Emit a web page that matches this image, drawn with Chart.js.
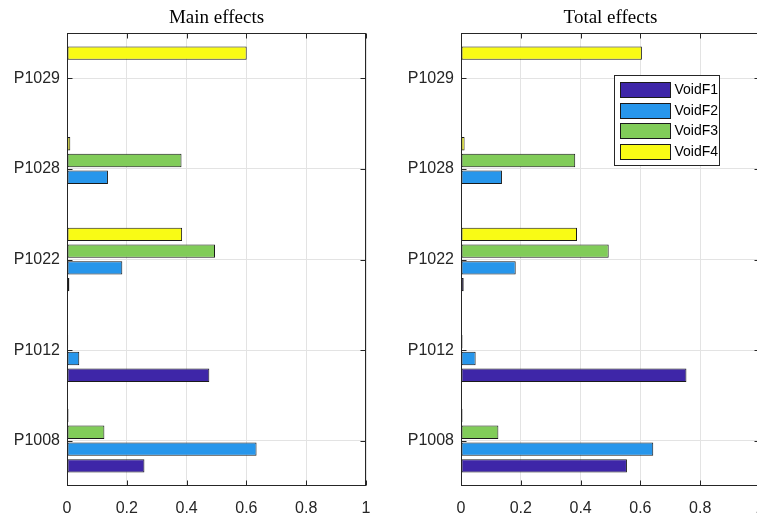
<!DOCTYPE html>
<html><head><meta charset="utf-8">
<script src="https://cdn.jsdelivr.net/npm/chart.js@4"></script>
<style>
html,body{margin:0;padding:0;background:#fff;}
#wrap{position:relative;width:757px;height:513px;overflow:hidden;background:#fff;}
canvas{position:absolute;top:0;}
</style></head><body>
<div id="wrap"><canvas id="c1" width="380" height="513" style="left:0;width:380px;height:513px"></canvas><canvas id="c2" width="400" height="513" style="left:380px;width:400px;height:513px"></canvas></div>
<script>
const categories = ['P1008', 'P1012', 'P1022', 'P1028', 'P1029'];
const seriesNames = ['VoidF1', 'VoidF2', 'VoidF3', 'VoidF4'];
const mainF1 = [0.259, 0.476, 0.008, 0.001, 0.001];
const mainF2 = [0.634, 0.041, 0.185, 0.137, 0.001];
const mainF3 = [0.125, 0.004, 0.495, 0.383, 0.001];
const mainF4 = [0.005, 0.001, 0.385, 0.011, 0.601];
const totalF1 = [0.555, 0.754, 0.009, 0.002, 0.001];
const totalF2 = [0.643, 0.049, 0.183, 0.137, 0.001];
const totalF3 = [0.125, 0.005, 0.494, 0.382, 0.001];
const totalF4 = [0.005, 0.001, 0.388, 0.012, 0.605];
const xTicks = [0, 0.2, 0.4, 0.6, 0.8, 1];
const colors = ['#3e26a8', '#2796eb', '#81cc59', '#f9fb15'];

Chart.defaults.font.family = '"Liberation Sans", Arial, sans-serif';
Chart.defaults.color = '#262626';

function makeChart(id, title, series, yWidth, padRight, showLegend) {
  const datasets = [];
  for (let k = series.length - 1; k >= 0; k--) {
    datasets.push({
      label: seriesNames[k],
      data: series[k],
      backgroundColor: colors[k],
      borderColor: '#1a1a1a',
      borderWidth: 1,
      borderSkipped: false,
      categoryPercentage: 0.74,
      barPercentage: 0.8
    });
  }
  const boxPlugin = {
    id: 'box' + id,
    afterDatasetsDraw(chart) {
      const ctx = chart.ctx, a = chart.chartArea;
      const xs = chart.scales.x, ys = chart.scales.y;
      ctx.save();
      ctx.strokeStyle = '#262626';
      ctx.lineWidth = 1;
      const L = Math.round(a.left) + 0.5, R = Math.round(a.right) - 0.5;
      const T = Math.round(a.top) + 0.5, B = Math.round(a.bottom) - 0.5;
      ctx.strokeRect(L, T, R - L, B - T);
      ctx.beginPath();
      xTicks.forEach(v => {
        const px = Math.round(xs.getPixelForValue(v)) + 0.5;
        ctx.moveTo(px, B); ctx.lineTo(px, B - 5);
        ctx.moveTo(px, T); ctx.lineTo(px, T + 5);
      });
      categories.forEach((c, i) => {
        const py = Math.round(ys.getPixelForValue(i)) + 0.5;
        ctx.moveTo(L, py); ctx.lineTo(L + 5, py);
        ctx.moveTo(R, py); ctx.lineTo(R - 5, py);
      });
      ctx.stroke();
      ctx.restore();
    },
    afterDraw(chart) {
      const ctx = chart.ctx, a = chart.chartArea;
      ctx.save();
      ctx.fillStyle = '#000';
      ctx.font = '19px "Liberation Serif", "Times New Roman", serif';
      ctx.textAlign = 'center';
      ctx.textBaseline = 'alphabetic';
      ctx.fillText(title, (a.left + a.right) / 2, 23);
      if (showLegend) {
        const bx = Math.round(a.right) - 146 + 0.5, by = 75.5, bw = 105, bh = 90;
        ctx.fillStyle = '#fff';
        ctx.fillRect(bx, by, bw, bh);
        ctx.strokeStyle = '#262626';
        ctx.lineWidth = 1;
        ctx.strokeRect(bx, by, bw, bh);
        ctx.font = '14px "Liberation Sans", Arial, sans-serif';
        ctx.textAlign = 'left';
        ctx.textBaseline = 'middle';
        for (let k = 0; k < seriesNames.length; k++) {
          const sy = 82 + k * 20.7;
          ctx.fillStyle = colors[k];
          ctx.fillRect(bx + 6, Math.round(sy) + 0.5, 50, 15);
          ctx.strokeStyle = '#1a1a1a';
          ctx.strokeRect(bx + 6, Math.round(sy) + 0.5, 50, 15);
          ctx.fillStyle = '#000';
          ctx.fillText(seriesNames[k], bx + 60, sy + 8);
        }
      }
      ctx.restore();
    }
  };
  return new Chart(document.getElementById(id), {
    type: 'bar',
    data: { labels: categories, datasets },
    options: {
      indexAxis: 'y',
      responsive: false,
      animation: false,
      devicePixelRatio: 1,
      layout: { padding: { top: 33, right: padRight, left: 0, bottom: 0 } },
      plugins: { legend: { display: false }, title: { display: false }, tooltip: { enabled: false } },
      scales: {
        x: {
          type: 'linear', min: 0, max: 1,
          afterBuildTicks(s) { s.ticks = xTicks.map(v => ({ value: v })); },
          afterFit(s) { s.height = 27; s.paddingLeft = 0; s.paddingRight = 0; },
          ticks: { font: { size: 16 }, color: '#262626', padding: 13, maxRotation: 0,
                   callback: v => String(Math.round(v * 10) / 10) },
          grid: { color: '#e3e3e3', drawTicks: false },
          border: { display: false }
        },
        y: {
          reverse: true,
          afterFit(s) { s.width = yWidth; s.paddingTop = 0; s.paddingBottom = 0; },
          ticks: { font: { size: 16 }, color: '#262626', padding: 7 },
          grid: { color: '#e3e3e3', drawTicks: false, offset: false },
          border: { display: false }
        }
      }
    },
    plugins: [boxPlugin]
  });
}

makeChart('c1', 'Main effects', [mainF1, mainF2, mainF3, mainF4], 67, 14, false);
makeChart('c2', 'Total effects', [totalF1, totalF2, totalF3, totalF4], 81, 20, true);
</script>
</body></html>
